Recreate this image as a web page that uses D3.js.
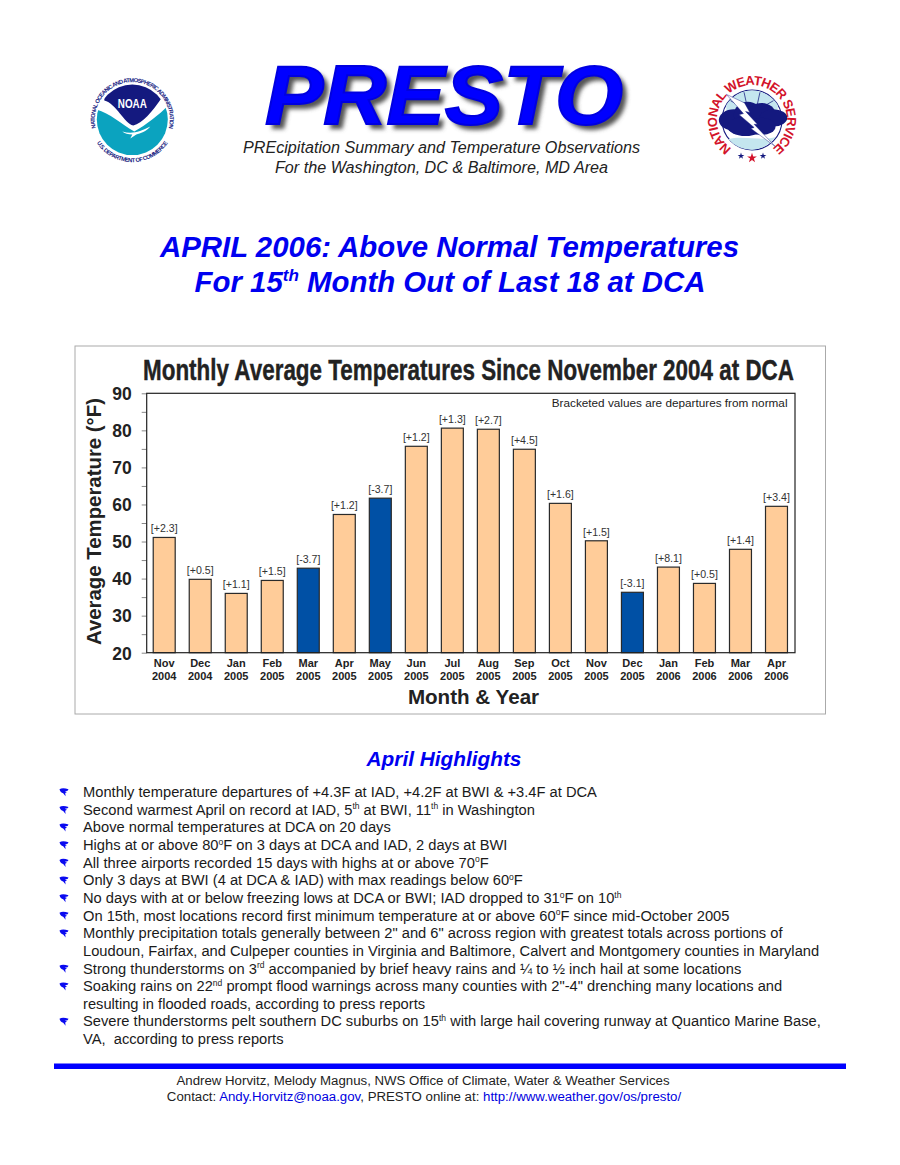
<!DOCTYPE html>
<html><head><meta charset="utf-8">
<script src="https://cdn.jsdelivr.net/npm/d3@7"></script>
<style>
html,body{margin:0;padding:0;background:#fff}
svg{display:block}
text{font-family:"Liberation Sans",Arial,sans-serif}
</style></head><body><div id="c"></div>
<script>
const categories=["Nov","Dec","Jan","Feb","Mar","Apr","May","Jun","Jul","Aug","Sep","Oct","Nov","Dec","Jan","Feb","Mar","Apr"];
const years=["2004","2004","2005","2005","2005","2005","2005","2005","2005","2005","2005","2005","2005","2005","2006","2006","2006","2006"];
const temps=[51.1,39.8,36.0,39.5,42.8,57.3,61.7,75.7,80.6,80.3,74.9,60.3,50.2,36.3,43.1,38.7,47.9,59.5];
const departures=[2.3,0.5,1.1,1.5,-3.7,1.2,-3.7,1.2,1.3,2.7,4.5,1.6,1.5,-3.1,8.1,0.5,1.4,3.4];
const majorTicks=[20,30,40,50,60,70,80,90];
const minorTicks=[25,35,45,55,65,75,85];
// ^x^ marks a superscript
const highlights=[
 ["Monthly temperature departures of +4.3F at IAD, +4.2F at BWI & +3.4F at DCA"],
 ["Second warmest April on record at IAD, 5^th^ at BWI, 11^th^ in Washington"],
 ["Above normal temperatures at DCA on 20 days"],
 ["Highs at or above 80^o^F on 3 days at DCA and IAD, 2 days at BWI"],
 ["All three airports recorded 15 days with highs at or above 70^o^F"],
 ["Only 3 days at BWI (4 at DCA & IAD) with max readings below 60^o^F"],
 ["No days with at or below freezing lows at DCA or BWI; IAD dropped to 31^o^F on 10^th^"],
 ["On 15th, most locations record first minimum temperature at or above 60^o^F since mid-October 2005"],
 ["Monthly precipitation totals generally between 2\" and 6\" across region with greatest totals across portions of","Loudoun, Fairfax, and Culpeper counties in Virginia and Baltimore, Calvert and Montgomery counties in Maryland"],
 ["Strong thunderstorms on 3^rd^ accompanied by brief heavy rains and ¼ to ½ inch hail at some locations"],
 ["Soaking rains on 22^nd^ prompt flood warnings across many counties with 2\"-4\" drenching many locations and","resulting in flooded roads, according to press reports"],
 ["Severe thunderstorms pelt southern DC suburbs on 15^th^ with large hail covering runway at Quantico Marine Base,","VA,  according to press reports"]
];

const BLUE="#0000f0", PEACH="#ffcc99", NAVY="#0050a5";
const svg=d3.select("#c").append("svg").attr("width",900).attr("height",1165).attr("viewBox","0 0 900 1165");
const defs=svg.append("defs");
defs.append("filter").attr("id","blur").attr("x","-10%").attr("y","-10%").attr("width","120%").attr("height","120%")
  .append("feGaussianBlur").attr("stdDeviation",2);

function T(p,x,y,s,size,o={}){
  const t=p.append("text").attr("x",x).attr("y",y).attr("font-size",size)
    .attr("text-anchor",o.anchor||"start").attr("fill",o.fill||"#111")
    .attr("font-weight",o.weight||"normal").attr("font-style",o.style||"normal");
  if(o.len) t.attr("textLength",o.len).attr("lengthAdjust","spacingAndGlyphs");
  s.split("^").forEach((part,i)=>{
    if(!part) return;
    const span=t.append("tspan").text(part).attr("xml:space","preserve");
    if(i%2){span.attr("font-size",size*0.58).attr("dy",-size*0.36)}
    else if(i>0){span.attr("dy",size*0.36)}
  });
  return t;
}

/* Header */
T(svg,270,129,"PRESTO",83,{weight:"bold",style:"italic",fill:"#555",len:358}).attr("filter","url(#blur)");
T(svg,265,124,"PRESTO",83,{weight:"bold",style:"italic",fill:"#0000ff",len:358}).attr("stroke","#0000e0").attr("stroke-width",2);
T(svg,441.5,153,"PREcipitation Summary and Temperature Observations",16.3,{anchor:"middle",style:"italic",fill:"#222",len:397});
T(svg,441.5,173,"For the Washington, DC & Baltimore, MD Area",16.3,{anchor:"middle",style:"italic",fill:"#222",len:333});

const arcPath=(id,r,a0,a1,sweep,large)=>{
  const p=a=>[r*Math.sin(a*Math.PI/180),-r*Math.cos(a*Math.PI/180)];
  const [x0,y0]=p(a0),[x1,y1]=p(a1);
  defs.append("path").attr("id",id).attr("d",`M${x0},${y0} A${r},${r} 0 ${large} ${sweep} ${x1},${y1}`);
};
const onArc=(g,id,s,size,fill,weight,len)=>g.append("text").attr("font-size",size).attr("fill",fill).attr("font-weight",weight)
   .append("textPath").attr("href","#"+id).attr("startOffset","50%").attr("text-anchor","middle")
   .attr("textLength",len).attr("lengthAdjust","spacing").text(s);

/* NOAA logo */
const noaa=svg.append("g").attr("transform","translate(132.3,119.6)");
noaa.append("circle").attr("r",35.5).attr("fill","#0ba3bf");
noaa.append("path").attr("fill","#fff").attr("d","M-36,-10 C-22,-6 -12,4 2,12 C14,5 26,-4 37,-15 L28,-38 L-28,-38 Z");
defs.append("clipPath").attr("id","nc").append("circle").attr("r",35);
noaa.append("g").attr("clip-path","url(#nc)").append("path").attr("fill","#14197f")
  .attr("d","M-28,-19 C-16,-16 -8,4 1,6 C10,4 20,-8 29,-21 L29,-40 L-28,-40 Z");
noaa.append("path").attr("fill","#fff").attr("d","M-10,12 C0,15 8,12 18,7 C14,12 8,14 4,15 L-2,19 L0,15 C-4,15 -8,14 -10,12 Z");
T(noaa,0,-12,"NOAA",13.5,{anchor:"middle",weight:"bold",fill:"#fff",len:29});
arcPath("na1",37.5,-106,106,1,1);
arcPath("na2",42.5,-118,118,0,0);
onArc(noaa,"na1","NATIONAL OCEANIC AND ATMOSPHERIC ADMINISTRATION",5.8,"#14197f","bold",135);
onArc(noaa,"na2","U.S. DEPARTMENT OF COMMERCE",5.8,"#14197f","bold",84);

/* NWS logo */
const nws=svg.append("g").attr("transform","translate(752,120)");
const nwsIn=nws.append("g").attr("transform","scale(1.07)");
nwsIn.append("circle").attr("r",28).attr("fill","#fff").attr("stroke","#14197f").attr("stroke-width",1);
nwsIn.append("path").attr("fill","#c4e6ef").attr("d","M-24,-14 A28,28 0 0 1 24,-14 L24,-8 L-24,-8 Z");
nwsIn.append("path").attr("fill","#c4e6ef").attr("d","M-22,18 C-10,14 10,20 22,16 A28,28 0 0 1 -22,18 Z");
nwsIn.selectAll("line.r").data([-48,-16,16,48]).join("line").attr("stroke","#14197f").attr("stroke-width",.7)
  .attr("x1",d=>11*Math.sin(d*Math.PI/180)*1.6).attr("y1",-14)
  .attr("x2",d=>27*Math.sin(d*Math.PI/180)).attr("y2",d=>-27*Math.cos(d*Math.PI/180));
nwsIn.selectAll("ellipse").data([[-17,0,14,10],[-4,-5,13,12],[9,-5,13,11],[20,-2,13,8],[-6,6,17,9],[9,6,13,8]]).join("ellipse")
  .attr("cx",d=>d[0]).attr("cy",d=>d[1]).attr("rx",d=>d[2]).attr("ry",d=>d[3]).attr("fill","#14197f");
nwsIn.append("path").attr("fill","#fff").attr("stroke","#14197f").attr("stroke-width",.4)
  .attr("d","M-24,-24 L-7,-16 L-2,-7 L-6,-8 L5,4 L2,4 L22,25 L-1,8 L2,7 L-12,-5 L-8,-6 Z");
arcPath("nw",35,-145,145,1,1);
onArc(nws,"nw","NATIONAL WEATHER SERVICE",13,"#d3122a","bold",176);
nws.selectAll("path.s").data([[-11,36,14,"#14197f"],[0,38,30,"#d3122a"],[11,36,14,"#14197f"]]).join("path")
  .attr("transform",d=>`translate(${d[0]},${d[1]})`).attr("fill",d=>d[3])
  .attr("d",d=>d3.symbol(d3.symbolStar,d[2])());

/* Heading */
T(svg,449.5,257,"APRIL 2006: Above Normal Temperatures",29,{anchor:"middle",weight:"bold",style:"italic",fill:BLUE,len:579});
T(svg,450,292,"For 15^th^ Month Out of Last 18 at DCA",29.4,{anchor:"middle",weight:"bold",style:"italic",fill:BLUE});

/* Chart frame */
svg.append("rect").attr("x",75).attr("y",346).attr("width",750.5).attr("height",368).attr("fill","#fff").attr("stroke","#aaa").attr("stroke-width",1);
T(svg,143,380,"Monthly Average Temperatures Since November 2004 at DCA",30,{weight:"bold",fill:"#222",len:651}).attr("stroke","#222").attr("stroke-width",0.4);

const m={l:146.7,r:795,t:393.3,b:652.7};
const x=d3.scaleBand().domain(d3.range(temps.length)).range([m.l,m.r]).paddingInner(0.39).paddingOuter(0.195);
const y=d3.scaleLinear().domain([20,90]).range([m.b,m.t]);
const chart=svg.append("g");

// y axis: minor ticks then labelled ticks
chart.append("g").attr("transform",`translate(${m.l},0)`)
  .call(d3.axisLeft(y).tickValues(minorTicks).tickSize(5).tickFormat(""))
  .call(g=>{g.select(".domain").remove();g.selectAll("line").attr("stroke","#888")});
const ya=chart.append("g").attr("transform",`translate(${m.l},0)`)
  .call(d3.axisLeft(y).tickValues(majorTicks).tickSize(5).tickPadding(10));
ya.select(".domain").remove();
ya.selectAll("line").attr("stroke","#888");
ya.selectAll("text").attr("font-size",17.5).attr("font-weight","bold").attr("fill","#222").style("font-family",'"Liberation Sans"').attr("dy","0.36em");

// bars
chart.selectAll("rect.bar").data(temps).join("rect").attr("class","bar")
  .attr("x",(d,i)=>x(i)-0.5).attr("width",x.bandwidth()).attr("y",d=>y(d)).attr("height",d=>y(20)-y(d))
  .attr("fill",(d,i)=>departures[i]<0?NAVY:PEACH).attr("stroke","#2a2a2a").attr("stroke-width",1.2);

// plot border
chart.append("rect").attr("x",m.l).attr("y",m.t).attr("width",m.r-m.l).attr("height",m.b-m.t)
  .attr("fill","none").attr("stroke","#222").attr("stroke-width",1.2);

// labels
chart.selectAll("text.dep").data(departures).join("text").attr("class","dep")
  .attr("x",(d,i)=>x(i)+x.bandwidth()/2-0.5).attr("y",(d,i)=>y(temps[i])-5)
  .attr("text-anchor","middle").attr("font-size",10.6).attr("fill","#333")
  .text(d=>`[${d>0?"+":""}${d.toFixed(1)}]`);
chart.selectAll("text.mon").data(categories).join("text").attr("class","mon")
  .attr("x",(d,i)=>x(i)+x.bandwidth()/2-0.5).attr("y",667).attr("text-anchor","middle")
  .attr("font-size",11).attr("font-weight","bold").attr("fill","#222").text(d=>d);
chart.selectAll("text.yr").data(years).join("text").attr("class","yr")
  .attr("x",(d,i)=>x(i)+x.bandwidth()/2-0.5).attr("y",680).attr("text-anchor","middle")
  .attr("font-size",11).attr("font-weight","bold").attr("fill","#222").text(d=>d);
T(chart,473.5,704,"Month & Year",20.6,{anchor:"middle",weight:"bold",fill:"#222"});
T(chart,0,0,"Average Temperature (°F)",21,{anchor:"middle",weight:"bold",fill:"#222",len:247}).attr("transform","translate(100.5,521.5) rotate(-90)");
T(chart,787.5,407,"Bracketed values are departures from normal",11.75,{anchor:"end",fill:"#222"});

/* Highlights */
T(svg,444,766,"April Highlights",20.8,{anchor:"middle",weight:"bold",style:"italic",fill:BLUE});
const bullet="M-4.5,-3.2 C-2.5,-4.6 0.5,-4.6 4.5,-3.2 L3.6,-1.8 L0.8,-1.3 L3,-0.4 L1.2,0.6 L1.6,3.8 L-0.8,0.8 C-2.5,0.4 -4,-1 -4.5,-3.2 Z";
const list=svg.append("g");
let row=0;
highlights.forEach(lines=>{
  lines.forEach((ln,k)=>{
    const by=797+row*17.65;
    if(k===0) list.append("path").attr("d",bullet).attr("fill","#0a0af0").attr("transform",`translate(64,${by-4.5})`);
    T(list,83,by,ln,14.7,{fill:"#1a1a1a"});
    row++;
  });
});

/* Footer */
svg.append("rect").attr("x",54).attr("y",1063.5).attr("width",792).attr("height",5.5).attr("fill","#0000ff");
T(svg,423,1085,"Andrew Horvitz, Melody Magnus, NWS Office of Climate, Water & Weather Services",13.25,{anchor:"middle",fill:"#222"});
const f=svg.append("text").attr("x",424).attr("y",1100.5).attr("text-anchor","middle").attr("font-size",13.25).attr("fill","#222");
[["Contact: ","#222"],["Andy.Horvitz@noaa.gov","#0000e0"],[", PRESTO online at: ","#222"],["http://www.weather.gov/os/presto/","#0000e0"]]
 .forEach(d=>f.append("tspan").attr("fill",d[1]).attr("xml:space","preserve").text(d[0]));
</script></body></html>
